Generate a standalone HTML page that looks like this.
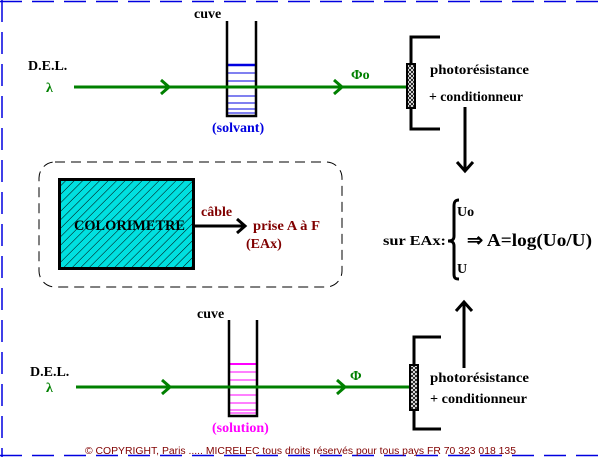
<!DOCTYPE html>
<html><head><meta charset="utf-8"><style>
html,body{margin:0;padding:0;background:#fff;width:608px;height:457px;overflow:hidden}
svg{display:block}
.s{font-family:"Liberation Serif",serif;font-weight:bold}
</style></head><body>
<svg width="608" height="457" viewBox="0 0 608 457" xmlns="http://www.w3.org/2000/svg">
<defs>
<pattern id="h" width="6" height="6" patternUnits="userSpaceOnUse" patternTransform="rotate(45)">
<rect width="6" height="6" fill="#00e0e0"/><line x1="0" y1="0" x2="0" y2="6" stroke="#000" stroke-width="1"/></pattern>
<pattern id="x" width="4" height="4" patternUnits="userSpaceOnUse">
<rect width="4" height="4" fill="#fff"/><path d="M0 0L4 4M4 0L0 4" stroke="#000" stroke-width="0.8"/></pattern>
</defs>
<line x1="0" y1="1.5" x2="608" y2="1.5" stroke="#0000e0" stroke-width="1.5" stroke-dasharray="22,10"/>
<line x1="2" y1="0" x2="2" y2="457" stroke="#0000e0" stroke-width="1.5" stroke-dasharray="22,10"/>
<line x1="0" y1="455.5" x2="608" y2="455.5" stroke="#0000e0" stroke-width="1.5" stroke-dasharray="22,10"/>

<!-- TOP -->
<text x="194" y="18" class="s" font-size="14">cuve</text>
<text x="28" y="70" class="s" font-size="14">D.E.L.</text>
<text x="46" y="92" class="s" font-size="14" fill="#008000">λ</text>
<g stroke="#0000e0" stroke-width="1">
<line x1="228" y1="73" x2="255" y2="73"/><line x1="228" y1="81" x2="255" y2="81"/>
<line x1="228" y1="88" x2="255" y2="88"/><line x1="228" y1="96" x2="255" y2="96"/>
<line x1="228" y1="103" x2="255" y2="103"/><line x1="228" y1="109" x2="255" y2="109"/>
<line x1="228" y1="113" x2="255" y2="113"/>
</g>
<line x1="227" y1="65" x2="256" y2="65" stroke="#0000e0" stroke-width="2.5"/>
<polyline points="227,21 227,116 256,116 256,21" fill="none" stroke="#000" stroke-width="2.5"/>
<line x1="74" y1="87" x2="408" y2="87" stroke="#008000" stroke-width="3"/>
<polyline points="161,80 169,87 161,94" fill="none" stroke="#008000" stroke-width="3"/>
<polyline points="334,80 342,87 334,94" fill="none" stroke="#008000" stroke-width="3"/>
<text x="351" y="79" class="s" font-size="14" fill="#008000">Φo</text>
<text x="212" y="132" class="s" font-size="14" fill="#0000e0">(solvant)</text>
<polyline points="440,37 411,37 411,129 440,129" fill="none" stroke="#000" stroke-width="3"/>
<rect x="407" y="64" width="8" height="44" fill="url(#x)" stroke="#000" stroke-width="2"/>
<text x="430" y="74" class="s" font-size="14" textLength="99" lengthAdjust="spacingAndGlyphs">photorésistance</text>
<text x="429" y="101" class="s" font-size="14" textLength="94" lengthAdjust="spacingAndGlyphs">+ conditionneur</text>
<line x1="465" y1="107" x2="465" y2="171" stroke="#000" stroke-width="3"/>
<polyline points="457,162 465,171 473,162" fill="none" stroke="#000" stroke-width="3"/>

<!-- MIDDLE -->
<rect x="39" y="162" width="303" height="125" rx="16" fill="none" stroke="#000" stroke-width="1" stroke-dasharray="10,6"/>
<rect x="59.5" y="179.5" width="134" height="89" fill="url(#h)" stroke="#000" stroke-width="3"/>
<text x="74" y="230" class="s" font-size="15" textLength="111" lengthAdjust="spacingAndGlyphs">COLORIMETRE</text>
<line x1="194" y1="226" x2="244" y2="226" stroke="#000" stroke-width="3"/>
<polyline points="237,219 245,226 237,233" fill="none" stroke="#000" stroke-width="3"/>
<text x="201" y="216" class="s" font-size="14" fill="#800000">câble</text>
<text x="253" y="230" class="s" font-size="14" fill="#800000" textLength="67" lengthAdjust="spacingAndGlyphs">prise A à F</text>
<text x="246" y="248" class="s" font-size="14" fill="#800000">(EAx)</text>

<!-- RIGHT -->
<text x="383" y="245" class="s" font-size="14" textLength="63" lengthAdjust="spacingAndGlyphs">sur EAx:</text>
<path d="M459,200 C455,200 454,202 454,206 L454,236 C454,240 452,241 448,241 C452,241 454,242 454,246 L454,274 C454,278 455,279 459,279" fill="none" stroke="#000" stroke-width="3"/>
<text x="457" y="216" class="s" font-size="14">Uo</text>
<text x="457" y="273" class="s" font-size="14">U</text>
<text x="467" y="246" class="s" font-size="18" textLength="125" lengthAdjust="spacingAndGlyphs">⇒ A=log(Uo/U)</text>

<!-- BOTTOM -->
<text x="197" y="318" class="s" font-size="14">cuve</text>
<text x="30" y="376" class="s" font-size="14">D.E.L.</text>
<text x="46" y="392" class="s" font-size="14" fill="#008000">λ</text>
<g stroke="#ff00ff" stroke-width="1">
<line x1="229" y1="372" x2="256" y2="372"/><line x1="229" y1="380" x2="256" y2="380"/>
<line x1="229" y1="395" x2="256" y2="395"/><line x1="229" y1="403" x2="256" y2="403"/>
<line x1="229" y1="410" x2="256" y2="410"/><line x1="229" y1="413" x2="256" y2="413"/>
</g>
<line x1="229" y1="364" x2="256" y2="364" stroke="#ff00ff" stroke-width="2"/>
<polyline points="229,320 229,416 257,416 257,320" fill="none" stroke="#000" stroke-width="2.5"/>
<line x1="76" y1="387" x2="410" y2="387" stroke="#008000" stroke-width="3"/>
<polyline points="162,380 170,387 162,394" fill="none" stroke="#008000" stroke-width="3"/>
<polyline points="337,380 345,387 337,394" fill="none" stroke="#008000" stroke-width="3"/>
<text x="350" y="380" class="s" font-size="14" fill="#008000">Φ</text>
<text x="212" y="432" class="s" font-size="14" fill="#ff00ff">(solution)</text>
<polyline points="441,337 414,337 414,429 441,429" fill="none" stroke="#000" stroke-width="3"/>
<rect x="410" y="365" width="8" height="45" fill="url(#x)" stroke="#000" stroke-width="2"/>
<text x="430" y="382" class="s" font-size="14" textLength="99" lengthAdjust="spacingAndGlyphs">photorésistance</text>
<text x="430" y="403" class="s" font-size="14" textLength="97" lengthAdjust="spacingAndGlyphs">+ conditionneur</text>
<line x1="464" y1="302" x2="464" y2="368" stroke="#000" stroke-width="3"/>
<polyline points="456,311 464,302 472,311" fill="none" stroke="#000" stroke-width="3"/>

<text x="85" y="454" font-family="Liberation Sans,sans-serif" font-size="10" fill="#800000" textLength="431" lengthAdjust="spacingAndGlyphs">© COPYRIGHT, Paris ..... MICRELEC tous droits réservés pour tous pays    FR 70 323 018 135</text>
</svg>
</body></html>
